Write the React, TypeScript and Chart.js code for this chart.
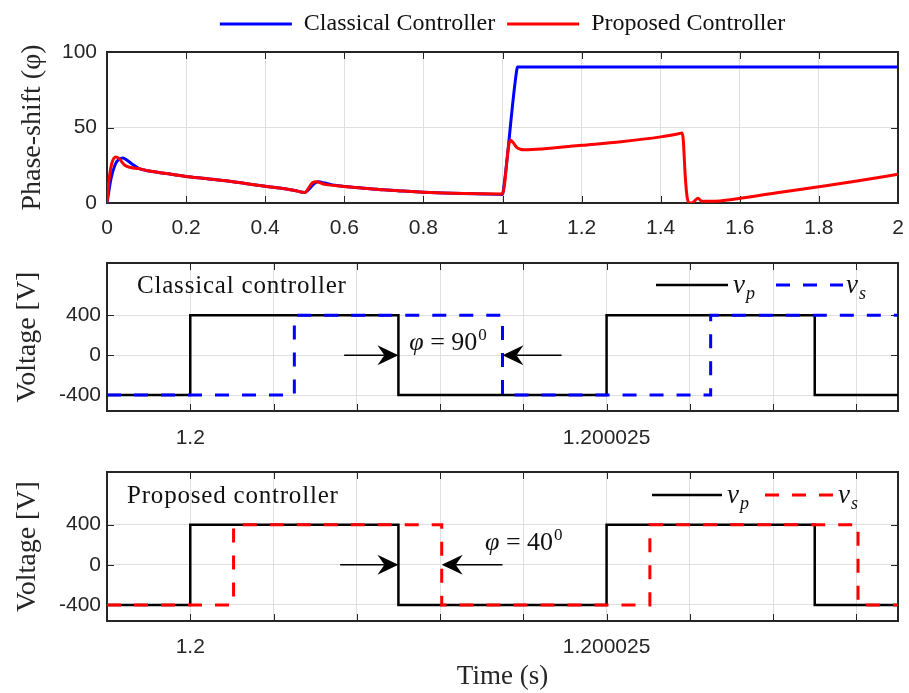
import React, { useEffect, useRef } from 'react';
import { Chart, registerables } from 'chart.js';

Chart.register(...registerables);

// ---------------- Phase-shift panel data ----------------
const classicalTime = [0, 0.01, 0.02, 0.03, 0.04, 0.05, 0.065, 0.08, 0.1, 0.15, 0.2, 0.25, 0.3, 0.35, 0.4, 0.45, 0.475, 0.5, 0.512, 0.525, 0.535, 0.55, 0.57, 0.6, 0.65, 0.7, 0.75, 0.8, 0.85, 0.9, 0.95, 1.0, 1.002, 1.036, 1.038, 1.2, 1.4, 1.6, 1.8, 2.0];
const classicalPhase = [0, 16, 25, 29, 29.8, 28.5, 25.5, 23, 21.5, 19.5, 17.6, 16.2, 14.7, 12.9, 11.1, 9.5, 8.3, 6.9, 9.5, 13, 14, 13.2, 12, 11, 9.8, 8.7, 7.9, 7.2, 6.7, 6.3, 6.0, 5.7, 8, 88, 90, 90, 90, 90, 90, 90];
const proposedTime = [0, 0.005, 0.012, 0.022, 0.03, 0.045, 0.06, 0.08, 0.1, 0.15, 0.2, 0.25, 0.3, 0.35, 0.4, 0.45, 0.475, 0.5, 0.51, 0.52, 0.53, 0.545, 0.56, 0.6, 0.65, 0.7, 0.75, 0.8, 0.85, 0.9, 0.95, 1.0, 1.005, 1.01, 1.015, 1.02, 1.027, 1.035, 1.045, 1.055, 1.1, 1.2, 1.3, 1.4, 1.445, 1.454, 1.457, 1.462, 1.467, 1.473, 1.481, 1.494, 1.504, 1.527, 1.594, 1.694, 1.8, 1.9, 2.0];
const proposedPhase = [0, 15, 26, 30.5, 29.5, 25, 23.5, 22.8, 21.5, 19.5, 17.6, 16.2, 14.7, 12.9, 11.1, 9.5, 8.3, 6.9, 10, 13.5, 14, 12.8, 12, 11, 9.8, 8.7, 7.9, 7.2, 6.7, 6.3, 6.1, 6.0, 12, 25, 37, 41.5, 40, 37, 35.6, 35.3, 35.8, 38.2, 40.6, 43.8, 45.8, 46.4, 42, 18, 3.5, 0, 0.3, 3.1, 1.2, 1.1, 2.8, 6.8, 10.8, 14.7, 19];
const phaseXTicks = [0, 0.2, 0.4, 0.6, 0.8, 1, 1.2, 1.4, 1.6, 1.8, 2];
const phaseXTickLabels = ['0', '0.2', '0.4', '0.6', '0.8', '1', '1.2', '1.4', '1.6', '1.8', '2'];
const phaseYTicks = [0, 50, 100];
const phaseYTickLabels = ['0', '50', '100'];
const seriesNames = ['Classical Controller', 'Proposed Controller'];

// ---------------- Voltage panels data (time in µs after t = 1.2 s) ----------------
const vpTime = [-5, 0, 12.5, 25, 37.5, 42.5];
const vpVoltage = [-400, 400, -400, 400, -400, -400];
const vsClassicalTime = [-5, 6.25, 18.75, 31.25, 42.5];
const vsClassicalVoltage = [-400, 400, -400, 400, 400];
const vsProposedTime = [-5, 2.6, 15.1, 27.6, 40.1, 42.5];
const vsProposedVoltage = [-400, 400, -400, 400, -400, -400];
const voltXTicks = [-5, 0, 5, 10, 15, 20, 25, 30, 35, 40];
const voltXTickLabels = ['', '1.2', '', '', '', '', '1.200025', '', '', ''];
const voltYTicks = [-400, 0, 400];
const voltYTickLabels = ['-400', '0', '400'];
const panelTitles = ['Classical controller', 'Proposed controller'];
const phaseAngles = ['90', '40'];
const legendSymbols = [['v', 'p'], ['v', 's']];

const FONT_SANS = '"Liberation Sans", Arial, Helvetica, sans-serif';
const FONT_SERIF = '"Liberation Serif", "Times New Roman", serif';
const AXIS_COLOR = '#262626';
const GRID_COLOR = '#dfdfdf';

const fixedTicks = (values: number[]) => (scale: any) => {
  scale.ticks = values.map((v) => ({ value: v }));
};

const toPoints = (xs: number[], ys: number[]) => xs.map((x, i) => ({ x, y: ys[i] }));

const fitX = (h: number) => (s: any) => {
  s.height = h;
  s.paddingLeft = 0;
  s.paddingRight = 0;
};
const fitY = (w: number) => (s: any) => {
  s.width = w;
  s.paddingTop = 0;
  s.paddingBottom = 0;
};

// MATLAB-like box with inward tick marks
const boxPlugin = {
  id: 'matlabBox',
  beforeDatasetsDraw(chart: any) {
    const { ctx, chartArea: a, scales } = chart;
    const len = 7;
    ctx.save();
    ctx.strokeStyle = AXIS_COLOR;
    ctx.lineWidth = 1;
    ctx.beginPath();
    for (const t of scales.x.ticks) {
      const px = Math.round(scales.x.getPixelForValue(t.value)) + 0.5;
      if (px <= a.left + 2 || px >= a.right - 2) continue;
      ctx.moveTo(px, a.bottom);
      ctx.lineTo(px, a.bottom - len);
      ctx.moveTo(px, a.top);
      ctx.lineTo(px, a.top + len);
    }
    for (const t of scales.y.ticks) {
      const py = Math.round(scales.y.getPixelForValue(t.value)) + 0.5;
      if (py <= a.top + 2 || py >= a.bottom - 2) continue;
      ctx.moveTo(a.left, py);
      ctx.lineTo(a.left + len, py);
      ctx.moveTo(a.right, py);
      ctx.lineTo(a.right - len, py);
    }
    ctx.stroke();
    ctx.lineWidth = 2;
    ctx.strokeRect(a.left, a.top, a.right - a.left, a.bottom - a.top);
    ctx.restore();
  },
};

function drawArrow(ctx: CanvasRenderingContext2D, x1: number, y1: number, x2: number, y2: number) {
  const ang = Math.atan2(y2 - y1, x2 - x1);
  const c = Math.cos(ang), s = Math.sin(ang);
  const L = 21, W = 10, N = 7;
  ctx.save();
  ctx.strokeStyle = '#000';
  ctx.fillStyle = '#000';
  ctx.lineWidth = 1.5;
  ctx.beginPath();
  ctx.moveTo(x1, y1);
  ctx.lineTo(x2 - (L - N) * c, y2 - (L - N) * s);
  ctx.stroke();
  ctx.beginPath();
  ctx.moveTo(x2, y2);
  ctx.lineTo(x2 - L * c - W * s, y2 - L * s + W * c);
  ctx.lineTo(x2 - (L - N) * c, y2 - (L - N) * s);
  ctx.lineTo(x2 - L * c + W * s, y2 - L * s - W * c);
  ctx.closePath();
  ctx.fill();
  ctx.restore();
}

const voltAnnoPlugin = {
  id: 'voltAnno',
  afterDatasetsDraw(chart: any, _args: any, opts: any) {
    if (!opts || !opts.title) return;
    const { ctx, chartArea: a, scales } = chart;
    const xs = scales.x, ys = scales.y;
    const ds = chart.data.datasets;
    ctx.save();
    ctx.fillStyle = '#111';
    ctx.textAlign = 'left';
    ctx.textBaseline = 'alphabetic';
    // panel title
    ctx.font = `25px ${FONT_SERIF}`;
    try { (ctx as any).letterSpacing = '0.8px'; } catch (e) {}
    ctx.fillText(opts.title, a.left + opts.titleDx, a.top + opts.titleDy);
    try { (ctx as any).letterSpacing = '0px'; } catch (e) {}
    // legend
    for (const item of opts.legend) {
      const d = ds[item.ds];
      ctx.save();
      ctx.strokeStyle = d.borderColor;
      ctx.lineWidth = d.borderWidth;
      ctx.setLineDash(d.borderDash || []);
      ctx.beginPath();
      ctx.moveTo(a.left + item.x1, a.top + opts.legendDy);
      ctx.lineTo(a.left + item.x2, a.top + opts.legendDy);
      ctx.stroke();
      ctx.restore();
      ctx.font = `italic 27px ${FONT_SERIF}`;
      const tx = a.left + item.tx, ty = a.top + opts.textDy;
      ctx.fillText(item.sym[0], tx, ty);
      const w = ctx.measureText(item.sym[0]).width;
      ctx.font = `italic 18px ${FONT_SERIF}`;
      ctx.fillText(item.sym[1], tx + w + 1, ty + 6);
    }
    // arrows
    const y0 = ys.getPixelForValue(0);
    for (const [from, to] of opts.arrows) {
      drawArrow(ctx, xs.getPixelForValue(from), y0, xs.getPixelForValue(to), y0);
    }
    // phase label
    const px = xs.getPixelForValue(opts.phi.x);
    const py = ys.getPixelForValue(opts.phi.y);
    ctx.font = `italic 26px ${FONT_SERIF}`;
    ctx.fillText('φ', px, py);
    let cx = px + ctx.measureText('φ').width;
    ctx.font = `26px ${FONT_SERIF}`;
    const rest = ' = ' + opts.phi.value;
    ctx.fillText(rest, cx, py);
    cx += ctx.measureText(rest).width + 1;
    ctx.font = `17px ${FONT_SERIF}`;
    ctx.fillText('0', cx, py - 10);
    ctx.restore();
  },
};

function makePhaseChart(canvas: HTMLCanvasElement) {
  return new Chart(canvas, {
    type: 'line',
    data: {
      datasets: [
        {
          label: seriesNames[0],
          data: toPoints(classicalTime, classicalPhase),
          borderColor: '#0000ff',
          backgroundColor: '#0000ff',
          borderWidth: 3,
          pointRadius: 0,
          cubicInterpolationMode: 'monotone',
          order: 1,
        },
        {
          label: seriesNames[1],
          data: toPoints(proposedTime, proposedPhase),
          borderColor: '#ff0000',
          backgroundColor: '#ff0000',
          borderWidth: 3,
          pointRadius: 0,
          cubicInterpolationMode: 'monotone',
          order: 0,
        },
      ],
    },
    options: {
      responsive: false,
      animation: false,
      devicePixelRatio: 1,
      events: [],
      layout: { padding: { left: 0, right: 11, top: 0, bottom: 0 } },
      plugins: {
        legend: {
          position: 'top',
          fullSize: false,
          labels: {
            usePointStyle: true,
            pointStyle: 'line',
            pointStyleWidth: 72,
            padding: 12,
            color: '#111',
            font: { family: FONT_SERIF, size: 24 },
            sort: (a: any, b: any) => a.datasetIndex - b.datasetIndex,
          },
        },
        tooltip: { enabled: false },
      },
      scales: {
        x: {
          type: 'linear',
          min: 0,
          max: 2,
          afterBuildTicks: fixedTicks(phaseXTicks),
          afterFit: fitX(37),
          ticks: {
            callback: (_v: any, i: number) => phaseXTickLabels[i],
            autoSkip: false, maxRotation: 0, minRotation: 0, padding: 13,
            color: AXIS_COLOR, font: { family: FONT_SANS, size: 21 },
          },
          grid: { color: GRID_COLOR, lineWidth: 1, drawTicks: false },
          border: { display: false },
        },
        xTop: {
          type: 'linear',
          position: 'top',
          display: true,
          ticks: { display: false },
          grid: { display: false, drawTicks: false },
          border: { display: false },
          afterFit: fitX(6),
        },
        y: {
          type: 'linear',
          min: 0,
          max: 100,
          afterBuildTicks: fixedTicks(phaseYTicks),
          afterFit: fitY(107),
          ticks: {
            callback: (_v: any, i: number) => phaseYTickLabels[i],
            autoSkip: false, padding: 10,
            color: AXIS_COLOR, font: { family: FONT_SANS, size: 21 },
          },
          grid: { color: GRID_COLOR, lineWidth: 1, drawTicks: false },
          border: { display: false },
          title: {
            display: true,
            text: 'Phase-shift (φ)',
            color: AXIS_COLOR,
            font: { family: FONT_SERIF, size: 28 },
            padding: { top: 16, bottom: 0 },
          },
        },
      },
    } as any,
    plugins: [boxPlugin],
  });
}

function makeVoltageChart(
  canvas: HTMLCanvasElement,
  vsTime: number[],
  vsVoltage: number[],
  vsColor: string,
  padTop: number,
  xHeight: number,
  xPad: number,
  showXTitle: boolean,
  anno: any,
) {
  return new Chart(canvas, {
    type: 'line',
    data: {
      datasets: [
        {
          label: 'vp',
          data: toPoints(vpTime, vpVoltage),
          borderColor: '#000000',
          backgroundColor: '#000000',
          borderWidth: 2.5,
          pointRadius: 0,
          stepped: true,
          order: 1,
        },
        {
          label: 'vs',
          data: toPoints(vsTime, vsVoltage),
          borderColor: vsColor,
          backgroundColor: vsColor,
          borderWidth: 3,
          borderDash: [14, 13],
          pointRadius: 0,
          stepped: true,
          order: 0,
        },
      ],
    },
    options: {
      responsive: false,
      animation: false,
      devicePixelRatio: 1,
      events: [],
      layout: { padding: { left: 0, right: 11, top: padTop, bottom: 0 } },
      plugins: {
        legend: { display: false },
        tooltip: { enabled: false },
        voltAnno: anno,
      },
      scales: {
        x: {
          type: 'linear',
          min: -5,
          max: 42.5,
          afterBuildTicks: fixedTicks(voltXTicks),
          afterFit: fitX(xHeight),
          ticks: {
            callback: (_v: any, i: number) => voltXTickLabels[i],
            autoSkip: false, maxRotation: 0, minRotation: 0, padding: xPad,
            color: AXIS_COLOR, font: { family: FONT_SANS, size: 21 },
          },
          grid: { color: GRID_COLOR, lineWidth: 1, drawTicks: false },
          border: { display: false },
          title: {
            display: showXTitle,
            text: 'Time (s)',
            color: AXIS_COLOR,
            font: { family: FONT_SERIF, size: 27 },
            padding: { top: 0, bottom: 0 },
          },
        },
        y: {
          type: 'linear',
          min: -560,
          max: 925,
          afterBuildTicks: fixedTicks(voltYTicks),
          afterFit: fitY(107),
          ticks: {
            callback: (_v: any, i: number) => voltYTickLabels[i],
            autoSkip: false, padding: 6,
            color: AXIS_COLOR, font: { family: FONT_SANS, size: 21 },
          },
          grid: { color: GRID_COLOR, lineWidth: 1, drawTicks: false },
          border: { display: false },
          title: {
            display: true,
            text: 'Voltage [V]',
            color: AXIS_COLOR,
            font: { family: FONT_SERIF, size: 28 },
            padding: { top: 11, bottom: 0 },
          },
        },
      },
    } as any,
    plugins: [boxPlugin, voltAnnoPlugin],
  });
}

export default function App() {
  const c1 = useRef<HTMLCanvasElement>(null);
  const c2 = useRef<HTMLCanvasElement>(null);
  const c3 = useRef<HTMLCanvasElement>(null);

  useEffect(() => {
    const charts: Chart[] = [];
    if (c1.current) charts.push(makePhaseChart(c1.current));
    if (c2.current)
      charts.push(
        makeVoltageChart(c2.current, vsClassicalTime, vsClassicalVoltage, '#0000ff', 23, 44, 15, false, {
          title: panelTitles[0],
          titleDx: 30,
          titleDy: 30,
          legendDy: 22,
          textDy: 30,
          legend: [
            { ds: 0, x1: 549, x2: 621, tx: 626, sym: legendSymbols[0] },
            { ds: 1, x1: 669, x2: 736, tx: 739, sym: legendSymbols[1] },
          ],
          arrows: [[9.24, 12.5], [22.3, 18.75]],
          phi: { x: 13.15, y: 50, value: phaseAngles[0] },
        }),
      );
    if (c3.current)
      charts.push(
        makeVoltageChart(c3.current, vsProposedTime, vsProposedVoltage, '#ff0000', 17, 72, 14, true, {
          title: panelTitles[1],
          titleDx: 20,
          titleDy: 31,
          legendDy: 23,
          textDy: 31,
          legend: [
            { ds: 0, x1: 545, x2: 615, tx: 620, sym: legendSymbols[0] },
            { ds: 1, x1: 658, x2: 726, tx: 731, sym: legendSymbols[1] },
          ],
          arrows: [[9.0, 12.5], [18.75, 15.1]],
          phi: { x: 17.7, y: 150, value: phaseAngles[1] },
        }),
      );
    return () => charts.forEach((c) => c.destroy());
  }, []);

  const cs = (top: number, h: number): React.CSSProperties => ({
    position: 'absolute', left: 0, top, width: 909, height: h, display: 'block',
  });

  return (
    <div style={{ position: 'fixed', left: 0, top: 0, width: 909, height: 693, background: '#fff', overflow: 'hidden' }}>
      <canvas ref={c1} width={909} height={240} style={cs(0, 240)} />
      <canvas ref={c2} width={909} height={215} style={cs(240, 215)} />
      <canvas ref={c3} width={909} height={238} style={cs(455, 238)} />
    </div>
  );
}
